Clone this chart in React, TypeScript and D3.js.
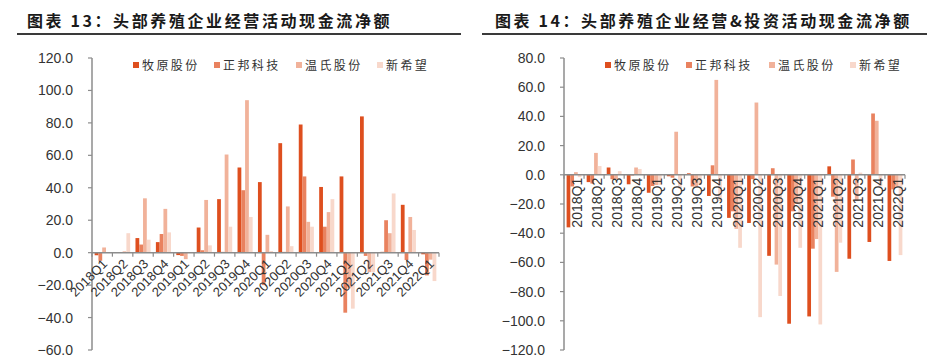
import React from 'react';
import * as d3 from 'd3';

const categories = ['2018Q1','2018Q2','2018Q3','2018Q4','2019Q1','2019Q2','2019Q3','2019Q4','2020Q1','2020Q2','2020Q3','2020Q4','2021Q1','2021Q2','2021Q3','2021Q4','2022Q1'];
const seriesNames = ['牧原股份', '正邦科技', '温氏股份', '新希望'];

// 图表13 经营活动现金流净额
const muyuanOp = [-1.6, 0.3, 9, 6.5, -1.5, 15.5, 33, 52.5, 43.5, 67.5, 79, 40.5, 47, 84, 0.5, 29.5, -1];
const zhengbangOp = [-5, 0.2, 5, 11.5, -2, 1.5, 0.5, 38.5, -20, 0.5, 47, 16, -37, -2, 20, -4.5, -14];
const wenshiOp = [3.2, 0.8, 33.5, 27, -4, 32.5, 60.5, 94, 11, 28.5, 19, 25, -22, -12, 12, 22, -4.3];
const xinxiwangOp = [0.3, 12, 8, 12.5, 0, 4.5, 16, 22, 1, 4, 16, 33, -34.5, -12, 36.5, 14, -17.5];

// 图表14 经营&投资活动现金流净额
const muyuanOpInv = [-36, -5, 5, -6.5, -12.3, -1, 1, -14.5, -29.5, -33, -55.5, -102, -97, 5.8, -57.5, -46, -59];
const zhengbangOpInv = [-8, -6, -3, -0.5, -7.7, -2, -8, 6.5, -25, -3, 4.5, -25, -50.6, -15, 10.5, 42, -10];
const wenshiOpInv = [1.8, 15, -3, 5, -7, 29.5, -8, 65, -37, 49.5, -61.5, -20, -44, -66.5, -18, 37, -8];
const xinxiwangOpInv = [-1.6, 6, 2.5, 4, -7, -9.5, -7, -18, -50, -97.5, -83, -50, -102.5, -46.5, 1.5, -8, -55];

const ticks13 = [-60, -40, -20, 0, 20, 40, 60, 80, 100, 120];
const ticks14 = [-120, -100, -80, -60, -40, -20, 0, 20, 40, 60, 80];

const colors = ['#DE4F1F', '#E9825F', '#F1B29A', '#F8D8CB'];

const CJK = '"Noto Sans CJK SC", "Noto Sans", sans-serif';
const NUM = '"Liberation Sans", Arial, sans-serif';

type ChartProps = {
  title: string;
  titleX: number;
  lineX0: number;
  lineX1: number;
  axisX: number;
  rightX: number;
  domain: [number, number];
  ticks: number[];
  series: number[][];
  legendXs: number[];
  vertical: boolean;
};

function Chart(p: ChartProps) {
  const top = 58, bottom = 350;
  const x = d3.scaleBand<string>().domain(categories).range([p.axisX, p.rightX]).paddingInner(0.26).paddingOuter(0.13);
  const xs = d3.scaleBand<number>().domain(d3.range(4)).range([0, x.bandwidth()]);
  const y = d3.scaleLinear().domain(p.domain).range([bottom, top]);
  const y0 = y(0);
  const step = x.step();
  const fmt = d3.format('.1f');
  const axisColor = '#8c8c8c';
  return (
    <g>
      <text x={p.titleX} y={27} fontFamily={CJK} fontWeight="bold" fontSize={16} letterSpacing={2.6} fill="#1a1a1a">{p.title}</text>
      <line x1={p.lineX0} x2={p.lineX1} y1={34} y2={34} stroke="#3a3a3a" strokeWidth={2} />
      {seriesNames.map((n, i) => (
        <g key={n}>
          <rect x={p.legendXs[i]} y={62} width={6} height={6} fill={colors[i]} />
          <text x={p.legendXs[i] + 9} y={69.5} fontFamily={CJK} fontSize={12} letterSpacing={2.4} fill="#333">{n}</text>
        </g>
      ))}
      {p.ticks.map(t => (
        <g key={t}>
          <line x1={p.axisX - 4} x2={p.axisX} y1={y(t)} y2={y(t)} stroke={axisColor} strokeWidth={1.2} />
          <text x={p.axisX - 19} y={y(t)} dy="0.36em" textAnchor="end" fontFamily={NUM} fontSize={14} fill="#333">{fmt(t).replace('-', '−')}</text>
        </g>
      ))}
      <line x1={p.axisX} x2={p.axisX} y1={top} y2={bottom} stroke={axisColor} strokeWidth={1.5} />
      {p.series.map((vals, si) => (
        <g key={si} fill={colors[si]}>
          {vals.map((v, ci) => {
            const bx = (x(categories[ci]) as number) + (xs(si) as number);
            const yv = y(v);
            return <rect key={ci} x={bx} width={xs.bandwidth()} y={Math.min(yv, y0)} height={Math.abs(yv - y0)} />;
          })}
        </g>
      ))}
      <line x1={p.axisX} x2={p.rightX} y1={y0} y2={y0} stroke={axisColor} strokeWidth={1.5} />
      {d3.range(categories.length + 1).map(i => (
        <line key={i} x1={p.axisX + i * step} x2={p.axisX + i * step} y1={y0} y2={y0 + 4} stroke={axisColor} strokeWidth={1.2} />
      ))}
      {categories.map(c => {
        const cx = (x(c) as number) + x.bandwidth() / 2;
        if (p.vertical) {
          return (
            <text key={c} transform={`translate(${cx + 3},${y0 + 3}) rotate(-90)`} textAnchor="end" dominantBaseline="central" fontFamily={NUM} fontSize={14} fill="#333">{c}</text>
          );
        }
        return (
          <text key={c} transform={`translate(${cx + 6},${y0 + 12}) rotate(-45)`} textAnchor="end" fontFamily={NUM} fontSize={13} fill="#333">{c}</text>
        );
      })}
    </g>
  );
}

export default function App() {
  return (
    <svg width={944} height={357} style={{ position: 'absolute', left: 0, top: 0, background: '#fff' }}>
      <rect width={944} height={357} fill="#fff" />
      <Chart
        title="图表 13：头部养殖企业经营活动现金流净额"
        titleX={27} lineX0={17} lineX1={461}
        axisX={92} rightX={439}
        domain={[-60, 120]} ticks={ticks13}
        series={[muyuanOp, zhengbangOp, wenshiOp, xinxiwangOp]}
        legendXs={[133, 214, 296, 377]}
        vertical={false}
      />
      <Chart
        title="图表 14：头部养殖企业经营&投资活动现金流净额"
        titleX={495} lineX0={482} lineX1={927}
        axisX={564} rightX={905}
        domain={[-120, 80]} ticks={ticks14}
        series={[muyuanOpInv, zhengbangOpInv, wenshiOpInv, xinxiwangOpInv]}
        legendXs={[605, 686, 769, 850]}
        vertical={true}
      />
    </svg>
  );
}
